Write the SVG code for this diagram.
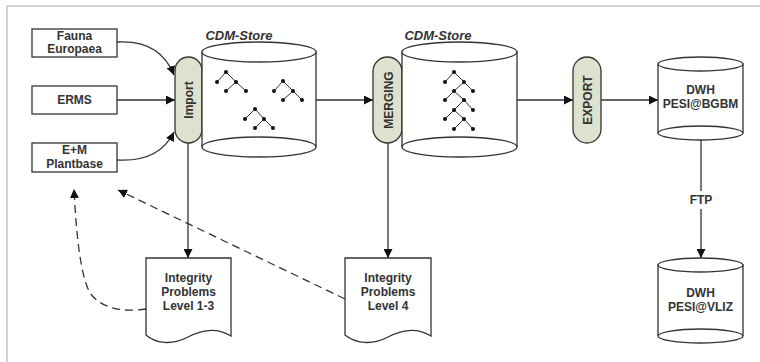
<svg xmlns="http://www.w3.org/2000/svg" width="760" height="362" viewBox="0 0 760 362">
<defs>
<style>
.box{fill:#fff;stroke:#333;stroke-width:1.3}
.pill{fill:#dde2cf;stroke:#333;stroke-width:1.3}
.cyl{fill:#fff;stroke:#333;stroke-width:1.3}
.t{font-family:"Liberation Sans",Arial,sans-serif;font-weight:bold;font-size:12px;fill:#333;text-anchor:middle}
.ti{font-family:"Liberation Sans",Arial,sans-serif;font-weight:bold;font-style:italic;font-size:13px;fill:#333;text-anchor:middle}
.c{fill:none;stroke:#333;stroke-width:1.3}
.d{fill:none;stroke:#333;stroke-width:1.3;stroke-dasharray:8,5}
.tree line{stroke:#333;stroke-width:1}
.tree circle{fill:#111}
</style>
<marker id="ah2" viewBox="0 0 10 10" refX="10" refY="5" markerWidth="9" markerHeight="9" markerUnits="userSpaceOnUse" orient="auto">
<path d="M0,0 L10,5 L0,10 z" fill="#111"/>
</marker>
</defs>
<rect x="0" y="0" width="760" height="362" fill="#fff"/>
<rect x="7" y="6" width="760" height="370" fill="none" stroke="#d4d4d4" stroke-width="2"/>

<g id="connectors">
<path class="c" d="M117,42 C150,40 166,55 174,75" marker-end="url(#ah2)"/>
<path class="c" d="M117,100 L175,100" marker-end="url(#ah2)"/>
<path class="c" d="M117,160 C150,162 166,148 174,132" marker-end="url(#ah2)"/>
<path class="c" d="M316,100 L373,100" marker-end="url(#ah2)"/>
<path class="c" d="M517,100 L573,100" marker-end="url(#ah2)"/>
<path class="c" d="M601,100 L658,100" marker-end="url(#ah2)"/>
<path class="c" d="M188,143 L188,258" marker-end="url(#ah2)"/>
<path class="c" d="M388,143 L388,258" marker-end="url(#ah2)"/>
<path class="c" d="M701,140 L701,191"/>
<path class="c" d="M701,209 L701,258" marker-end="url(#ah2)"/>
<text class="t" x="701" y="204">FTP</text>
<path class="d" d="M146,309 C120,313 100,307 90,293 C80,275 76,230 74,189" marker-end="url(#ah2)"/>
<path class="d" d="M345,299 L118,190" marker-end="url(#ah2)"/>
</g>

<g id="fauna">
<rect class="box" x="32" y="29" width="85" height="28"/>
<text class="t" x="74.5" y="40">Fauna</text>
<text class="t" x="74.5" y="53">Europaea</text>
</g>
<g id="erms">
<rect class="box" x="32" y="86" width="85" height="28"/>
<text class="t" x="74.5" y="104">ERMS</text>
</g>
<g id="emplantbase">
<rect class="box" x="32" y="143" width="85" height="29"/>
<text class="t" x="74.5" y="154">E+M</text>
<text class="t" x="74.5" y="168">Plantbase</text>
</g>

<g id="import">
<rect class="pill" x="175" y="57" width="27" height="86" rx="13.5"/>
<text class="t" transform="translate(192.5,100) rotate(-90)">Import</text>
</g>

<g id="cdm1">
<text class="ti" x="239" y="40">CDM-Store</text>
<path class="cyl" d="M202,52 L202,147 A57,10 0 0 0 316,147 L316,52 Z"/>
<ellipse class="cyl" cx="259" cy="52" rx="57" ry="10"/>
<path class="c" d="M202,147 A57,10 0 0 1 316,147"/>
<g class="tree">
<line x1="226" y1="72" x2="217" y2="82"/><line x1="226" y1="72" x2="236" y2="82"/>
<line x1="236" y1="82" x2="226" y2="91"/><line x1="236" y1="82" x2="246" y2="91"/>
<circle cx="226" cy="72" r="2"/><circle cx="217" cy="82" r="2"/><circle cx="236" cy="82" r="2"/><circle cx="226" cy="91" r="2"/><circle cx="246" cy="91" r="2"/>
<line x1="283" y1="81" x2="274" y2="91"/><line x1="283" y1="81" x2="293" y2="91"/>
<line x1="293" y1="91" x2="283" y2="100"/><line x1="293" y1="91" x2="302" y2="100"/>
<circle cx="283" cy="81" r="2"/><circle cx="274" cy="91" r="2"/><circle cx="293" cy="91" r="2"/><circle cx="283" cy="100" r="2"/><circle cx="302" cy="100" r="2"/>
<line x1="255" y1="109" x2="245" y2="119"/><line x1="255" y1="109" x2="264" y2="119"/>
<line x1="264" y1="119" x2="255" y2="128"/><line x1="264" y1="119" x2="273" y2="128"/>
<circle cx="255" cy="109" r="2"/><circle cx="245" cy="119" r="2"/><circle cx="264" cy="119" r="2"/><circle cx="255" cy="128" r="2"/><circle cx="273" cy="128" r="2"/>
</g>
</g>

<g id="merging">
<rect class="pill" x="373" y="57" width="29" height="86" rx="14.5"/>
<text class="t" transform="translate(392.5,100) rotate(-90)">MERGING</text>
</g>

<g id="cdm2">
<text class="ti" x="438" y="40">CDM-Store</text>
<path class="cyl" d="M402,52 L402,147 A57.5,10 0 0 0 517,147 L517,52 Z"/>
<ellipse class="cyl" cx="459.5" cy="52" rx="57.5" ry="10"/>
<path class="c" d="M402,147 A57.5,10 0 0 1 517,147"/>
<g class="tree">
<line x1="454" y1="72" x2="445" y2="82"/><line x1="454" y1="72" x2="464" y2="82"/>
<line x1="464" y1="82" x2="454" y2="91"/><line x1="464" y1="82" x2="473" y2="91"/>
<line x1="454" y1="91" x2="445" y2="100"/><line x1="454" y1="91" x2="464" y2="100"/>
<line x1="464" y1="100" x2="454" y2="110"/><line x1="464" y1="100" x2="473" y2="110"/>
<line x1="454" y1="110" x2="445" y2="119"/><line x1="454" y1="110" x2="464" y2="119"/>
<line x1="464" y1="119" x2="454" y2="129"/><line x1="464" y1="119" x2="473" y2="129"/>
<circle cx="454" cy="72" r="2"/><circle cx="445" cy="82" r="2"/><circle cx="464" cy="82" r="2"/>
<circle cx="454" cy="91" r="2"/><circle cx="473" cy="91" r="2"/>
<circle cx="445" cy="100" r="2"/><circle cx="464" cy="100" r="2"/>
<circle cx="454" cy="110" r="2"/><circle cx="473" cy="110" r="2"/>
<circle cx="445" cy="119" r="2"/><circle cx="464" cy="119" r="2"/>
<circle cx="454" cy="129" r="2"/><circle cx="473" cy="129" r="2"/>
</g>
</g>

<g id="export">
<rect class="pill" x="573" y="57" width="28" height="86" rx="14"/>
<text class="t" transform="translate(591.5,100) rotate(-90)">EXPORT</text>
</g>

<g id="dwh-bgbm">
<path class="cyl" d="M658,64 L658,133 A42.5,7 0 0 0 743,133 L743,64 Z"/>
<ellipse class="cyl" cx="700.5" cy="64" rx="42.5" ry="7"/>
<path class="c" d="M658,133 A42.5,7 0 0 1 743,133"/>
<text class="t" x="700.5" y="94">DWH</text>
<text class="t" x="700.5" y="108">PESI@BGBM</text>
</g>

<g id="dwh-vliz">
<path class="cyl" d="M658,265 L658,336 A42.5,7 0 0 0 743,336 L743,265 Z"/>
<ellipse class="cyl" cx="700.5" cy="265" rx="42.5" ry="7"/>
<path class="c" d="M658,336 A42.5,7 0 0 1 743,336"/>
<text class="t" x="700.5" y="297">DWH</text>
<text class="t" x="700.5" y="311">PESI@VLIZ</text>
</g>

<g id="problems13">
<path class="box" d="M146,258 L231,258 L231,336 C220,329 205,328 188,337 C171,346 155,343 146,335 Z"/>
<text class="t" x="188.5" y="282">Integrity</text>
<text class="t" x="188.5" y="296">Problems</text>
<text class="t" x="188.5" y="310">Level 1-3</text>
</g>

<g id="problems4">
<path class="box" d="M345,258 L431,258 L431,336 C420,329 405,328 388,337 C371,346 355,343 345,335 Z"/>
<text class="t" x="388" y="282">Integrity</text>
<text class="t" x="388" y="296">Problems</text>
<text class="t" x="388" y="310">Level 4</text>
</g>
</svg>
